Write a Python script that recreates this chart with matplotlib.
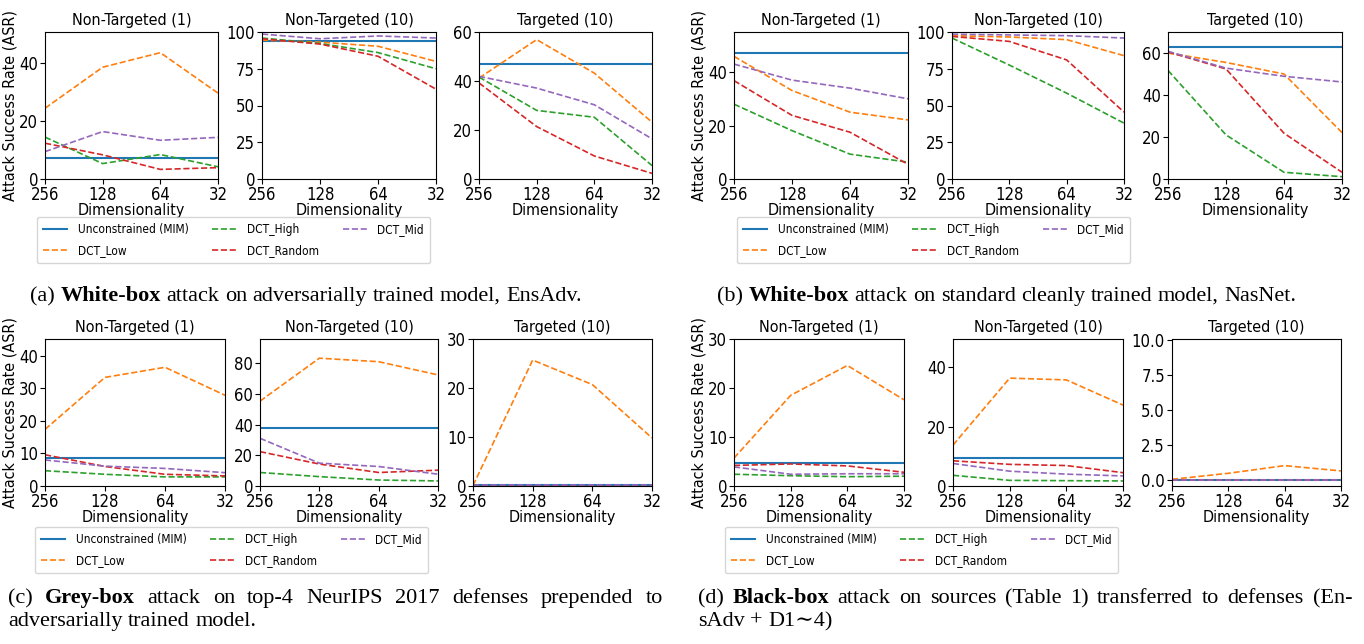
import matplotlib
matplotlib.use("Agg")
import matplotlib.pyplot as plt
from matplotlib.ticker import NullLocator

plt.rcParams["font.family"] = "DejaVu Sans"
plt.rcParams["font.stretch"] = "condensed"

# x axis: DCT dimensionality
dims = [256, 128, 64, 32]
titles = ["Non-Targeted (1)", "Non-Targeted (10)", "Targeted (10)"]
series_names = ["Unconstrained (MIM)", "DCT_Low", "DCT_High", "DCT_Random", "DCT_Mid"]

# (a) white-box, EnsAdv
ensadv_mim = [7.3, 94.0, 47.0]
ensadv_low = [[24.3, 38.4, 43.4, 29.5], [94.5, 93.1, 90.3, 80.0], [41.2, 56.9, 43.2, 23.2]]
ensadv_high = [[14.4, 5.3, 8.4, 4.2], [95.9, 92.2, 86.0, 75.0], [41.6, 28.0, 25.2, 5.5]]
ensadv_rand = [[12.3, 8.3, 3.3, 3.9], [95.4, 91.8, 83.5, 61.1], [39.2, 21.4, 9.4, 2.3]]
ensadv_mid = [[9.4, 16.3, 13.3, 14.3], [98.6, 95.4, 97.3, 95.9], [41.9, 37.1, 30.3, 16.4]]

# (b) white-box, NasNet
nasnet_mim = [47.0, 99.7, 62.9]
nasnet_low = [[45.9, 33.1, 25.0, 22.1], [97.5, 96.6, 94.8, 83.9], [60.0, 55.5, 50.0, 22.1]]
nasnet_high = [[28.0, 18.1, 9.3, 6.3], [95.9, 77.5, 58.4, 38.0], [51.7, 21.0, 3.2, 1.1]]
nasnet_rand = [[36.8, 23.8, 17.5, 5.5], [97.0, 93.6, 81.0, 45.5], [60.5, 52.4, 21.8, 3.2]]
nasnet_mid = [[43.0, 37.0, 34.0, 30.0], [98.5, 98.0, 97.5, 95.9], [60.8, 52.8, 48.9, 46.2]]

# (c) grey-box, NeurIPS 2017 defenses
grey_mim = [8.6, 38.0, 0.3]
grey_low = [[17.4, 33.4, 36.5, 27.9], [55.3, 83.3, 81.0, 72.4], [0.1, 25.7, 20.7, 9.8]]
grey_high = [[4.7, 3.6, 2.8, 2.8], [8.8, 6.1, 3.9, 3.3], [0.1, 0.1, 0.1, 0.1]]
grey_rand = [[9.6, 6.0, 3.6, 3.1], [22.4, 14.3, 8.8, 10.3], [0.1, 0.1, 0.1, 0.1]]
grey_mid = [[8.0, 6.1, 5.4, 4.1], [31.1, 14.9, 12.7, 7.7], [0.2, 0.2, 0.2, 0.2]]

# (d) black-box transfer
black_mim = [4.7, 9.3, 0.0]
black_low = [[5.7, 18.5, 24.6, 17.6], [13.8, 36.4, 35.8, 27.3], [0.05, 0.48, 1.03, 0.65]]
black_high = [[2.4, 2.1, 1.9, 2.0], [3.6, 1.9, 1.8, 1.7], [0.0, 0.0, 0.0, 0.0]]
black_rand = [[4.2, 4.5, 4.1, 2.8], [8.5, 7.3, 6.9, 4.5], [0.0, 0.0, 0.0, 0.0]]
black_mid = [[3.9, 2.4, 2.5, 2.5], [7.6, 5.0, 4.0, 3.4], [0.0, 0.0, 0.0, 0.0]]

W, H = 1364, 644
fig = plt.figure(figsize=(W / 100, H / 100), dpi=100)
FS = 12
colors = ["C0", "C1", "C2", "C3", "C4"]

panels = [
    dict(mim=ensadv_mim, low=ensadv_low, high=ensadv_high, rand=ensadv_rand, mid=ensadv_mid,
         xs=[(45, 218), (262, 436), (479, 652)], ys=(32, 179),
         ylims=[(0, 50.5), (0, 100), (0, 60)],
         yticks=[[0, 20, 40], [0, 25, 50, 75, 100], [0, 20, 40, 60]], leg=(37, 217)),
    dict(mim=nasnet_mim, low=nasnet_low, high=nasnet_high, rand=nasnet_rand, mid=nasnet_mid,
         xs=[(734, 908), (952, 1124), (1168, 1342)], ys=(32, 179),
         ylims=[(0, 55), (0, 100), (0, 70)],
         yticks=[[0, 20, 40], [0, 25, 50, 75, 100], [0, 20, 40, 60]], leg=(737, 217)),
    dict(mim=grey_mim, low=grey_low, high=grey_high, rand=grey_rand, mid=grey_mid,
         xs=[(45, 225), (260, 438), (473, 652)], ys=(339, 486),
         ylims=[(0, 45.2), (0, 95.8), (0, 30)],
         yticks=[[0, 10, 20, 30, 40], [0, 20, 40, 60, 80], [0, 10, 20, 30]], leg=(35, 527)),
    dict(mim=black_mim, low=black_low, high=black_high, rand=black_rand, mid=black_mid,
         xs=[(734, 904), (953, 1123), (1172, 1341)], ys=(339, 486),
         ylims=[(0, 30), (0, 49.6), (-0.43, 10.1)],
         yticks=[[0, 10, 20, 30], [0, 20, 40], [0, 2.5, 5.0, 7.5, 10.0]], leg=(725, 527)),
]

for p in panels:
    handles = None
    for i, (x0, x1) in enumerate(p["xs"]):
        y0, y1 = p["ys"]
        ax = fig.add_axes([x0 / W, 1 - y1 / H, (x1 - x0) / W, (y1 - y0) / H])
        h0 = ax.axhline(p["mim"][i], color=colors[0], lw=1.5, label=series_names[0])
        hs = [h0]
        for k, key in enumerate(["low", "high", "rand", "mid"]):
            ln, = ax.plot(dims, p[key][i], color=colors[k + 1], ls="--", lw=1.2,
                          label=series_names[k + 1])
            hs.append(ln)
        ax.set_xscale("log", base=2)
        ax.set_xlim(256, 32)
        ax.set_xticks(dims, labels=[str(d) for d in dims])
        ax.xaxis.set_minor_locator(NullLocator())
        ax.set_ylim(*p["ylims"][i])
        ax.set_yticks(p["yticks"][i])
        ax.tick_params(labelsize=FS, pad=1.5)
        ax.set_title(titles[i], fontsize=FS - 0.5, pad=5)
        ax.set_xlabel("Dimensionality", fontsize=FS - 0.5, labelpad=-1)
        if i == 0:
            ax.set_ylabel("Attack Success Rate (ASR)", fontsize=FS - 0.5, labelpad=1)
            handles = hs
    lx, ly = p["leg"]
    fig.legend(handles, series_names, loc="upper left", bbox_to_anchor=(lx / W, 1 - ly / H),
               ncol=3, fontsize=8.6, borderaxespad=0, labelspacing=0.7, borderpad=0.5,
               handletextpad=0.9)

# captions, times-like serif with a bold keyword
CAP_FONT = ["Liberation Serif", "DejaVu Serif"]
CAP_FS = 16


def caption_line(x, y, segments, width=None):
    r = fig.canvas.get_renderer()
    texts = []
    for s, bold in segments:
        for w in s.split():
            t = fig.text(x / W, 1 - y / H, w, fontsize=CAP_FS, family=CAP_FONT,
                         fontstretch="normal", fontweight="bold" if bold else "normal",
                         va="baseline", ha="left")
            texts.append(t)
    widths = [t.get_window_extent(r).width for t in texts]
    if width is None:
        gap = CAP_FS * 100 / 72 * 0.25
    else:
        gap = (width - sum(widths)) / (len(texts) - 1)
    cx = x
    for t, w in zip(texts, widths):
        t.set_x(cx / W)
        cx += w + gap


caption_line(30, 301, [("(a)", False), ("White-box", True),
                       ("attack on adversarially trained model, EnsAdv.", False)])
caption_line(717, 301, [("(b)", False), ("White-box", True),
                        ("attack on standard cleanly trained model, NasNet.", False)])
caption_line(8, 603, [("(c)", False), ("Grey-box", True),
                      ("attack on top-4 NeurIPS 2017 defenses prepended to", False)], width=655)
caption_line(8, 626, [("adversarially trained model.", False)])
caption_line(698, 603, [("(d)", False), ("Black-box", True),
                        ("attack on sources (Table 1) transferred to defenses (En-", False)], width=654)
caption_line(698, 626, [("sAdv + D1\u223c4)", False)])

fig.savefig("out.png", dpi=100)
